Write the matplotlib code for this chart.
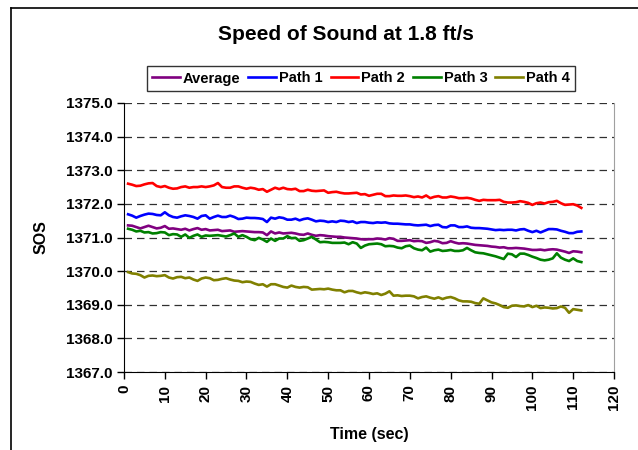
import numpy as np
import matplotlib
matplotlib.use("Agg")
import matplotlib.pyplot as plt
from matplotlib.lines import Line2D

plt.rcParams["font.family"] = ["Liberation Sans", "DejaVu Sans"]
plt.rcParams["font.weight"] = "bold"

# time in seconds, one sample per second
time_sec = list(range(1, 113))

path2 = [
    1372.60, 1372.57, 1372.53, 1372.54, 1372.58, 1372.61, 1372.62, 1372.53, 1372.50, 1372.53,
    1372.48, 1372.45, 1372.46, 1372.50, 1372.52, 1372.48, 1372.50, 1372.50, 1372.52,
    1372.50, 1372.52, 1372.55, 1372.62, 1372.50, 1372.48, 1372.48, 1372.52, 1372.52, 1372.48,
    1372.45, 1372.48, 1372.46, 1372.42, 1372.44, 1372.36, 1372.42, 1372.48, 1372.44,
    1372.48, 1372.44, 1372.43, 1372.45, 1372.38, 1372.38, 1372.42, 1372.39, 1372.38, 1372.39,
    1372.40, 1372.33, 1372.35, 1372.36, 1372.33, 1372.31, 1372.31, 1372.32, 1372.33, 1372.28,
    1372.29, 1372.24, 1372.27, 1372.30, 1372.30, 1372.23, 1372.23, 1372.25, 1372.24, 1372.24,
    1372.25, 1372.23, 1372.20, 1372.22, 1372.19, 1372.25, 1372.17, 1372.21, 1372.23, 1372.19,
    1372.19, 1372.22, 1372.20, 1372.17, 1372.17, 1372.18, 1372.16, 1372.12, 1372.09, 1372.12,
    1372.11, 1372.11, 1372.11, 1372.12, 1372.06, 1372.04, 1372.04, 1372.05, 1372.08,
    1372.06, 1372.03, 1371.97, 1372.02, 1372.04, 1372.01, 1372.05, 1372.06, 1372.09, 1372.02,
    1371.97, 1371.98, 1371.99, 1371.95, 1371.88,
]

path1 = [
    1371.69, 1371.65, 1371.59, 1371.64, 1371.68, 1371.71, 1371.70, 1371.67, 1371.66, 1371.75,
    1371.66, 1371.61, 1371.59, 1371.63, 1371.66, 1371.64, 1371.61, 1371.56, 1371.64,
    1371.66, 1371.56, 1371.61, 1371.65, 1371.61, 1371.61, 1371.65, 1371.61, 1371.55, 1371.56,
    1371.59, 1371.58, 1371.58, 1371.57, 1371.55, 1371.46, 1371.59, 1371.56, 1371.60,
    1371.58, 1371.53, 1371.53, 1371.56, 1371.51, 1371.55, 1371.57, 1371.53, 1371.48, 1371.50,
    1371.49, 1371.46, 1371.48, 1371.46, 1371.50, 1371.49, 1371.46, 1371.48, 1371.43, 1371.46,
    1371.46, 1371.44, 1371.43, 1371.45, 1371.44, 1371.45, 1371.42, 1371.41, 1371.41, 1371.40,
    1371.39, 1371.39, 1371.37, 1371.36, 1371.37, 1371.38, 1371.34, 1371.37, 1371.38, 1371.31,
    1371.30, 1371.36, 1371.36, 1371.31, 1371.31, 1371.33, 1371.29, 1371.28, 1371.28, 1371.27,
    1371.26, 1371.24, 1371.22, 1371.23, 1371.22, 1371.23, 1371.23, 1371.21, 1371.24,
    1371.25, 1371.20, 1371.16, 1371.20, 1371.15, 1371.20, 1371.25, 1371.25, 1371.24, 1371.20,
    1371.17, 1371.13, 1371.13, 1371.17, 1371.18,
]

average = [
    1371.36, 1371.35, 1371.31, 1371.27, 1371.31, 1371.35, 1371.31, 1371.27, 1371.29, 1371.34,
    1371.26, 1371.27, 1371.25, 1371.23, 1371.26, 1371.21, 1371.25, 1371.28, 1371.23,
    1371.25, 1371.21, 1371.22, 1371.23, 1371.19, 1371.20, 1371.21, 1371.17, 1371.18, 1371.19,
    1371.18, 1371.17, 1371.16, 1371.16, 1371.15, 1371.07, 1371.18, 1371.12, 1371.15,
    1371.12, 1371.13, 1371.14, 1371.12, 1371.09, 1371.08, 1371.12, 1371.08, 1371.05, 1371.07,
    1371.06, 1371.04, 1371.03, 1371.02, 1371.02, 1371.00, 1370.99, 1370.98, 1370.97, 1370.95,
    1370.94, 1370.95, 1370.95, 1370.97, 1370.96, 1370.94, 1370.98, 1370.96, 1370.90, 1370.90,
    1370.91, 1370.92, 1370.89, 1370.90, 1370.89, 1370.84, 1370.86, 1370.90, 1370.88, 1370.83,
    1370.84, 1370.89, 1370.85, 1370.82, 1370.83, 1370.82, 1370.80, 1370.78, 1370.77, 1370.76,
    1370.75, 1370.73, 1370.72, 1370.70, 1370.71, 1370.68, 1370.68, 1370.69, 1370.68,
    1370.67, 1370.65, 1370.63, 1370.63, 1370.64, 1370.62, 1370.64, 1370.65, 1370.64, 1370.61,
    1370.58, 1370.54, 1370.59, 1370.58, 1370.56,
]

path3 = [
    1371.26, 1371.23, 1371.18, 1371.20, 1371.15, 1371.16, 1371.12, 1371.13, 1371.16, 1371.15,
    1371.07, 1371.10, 1371.09, 1371.02, 1371.09, 1370.99, 1371.05, 1371.09, 1371.02,
    1371.06, 1371.05, 1371.06, 1371.07, 1371.05, 1371.03, 1371.07, 1371.12, 1371.02, 1371.07,
    1371.02, 1370.95, 1370.92, 1370.99, 1370.94, 1370.87, 1370.97, 1370.90, 1370.97,
    1370.97, 1371.04, 1370.98, 1370.99, 1370.90, 1370.92, 1370.97, 1371.02, 1370.94, 1370.86,
    1370.87, 1370.86, 1370.84, 1370.84, 1370.84, 1370.85, 1370.80, 1370.86, 1370.82, 1370.69,
    1370.76, 1370.80, 1370.81, 1370.82, 1370.80, 1370.74, 1370.75, 1370.74, 1370.70, 1370.68,
    1370.74, 1370.76, 1370.68, 1370.64, 1370.62, 1370.70, 1370.58, 1370.62, 1370.64, 1370.60,
    1370.61, 1370.63, 1370.60, 1370.60, 1370.62, 1370.69, 1370.62, 1370.56, 1370.54, 1370.53,
    1370.50, 1370.47, 1370.44, 1370.40, 1370.36, 1370.52, 1370.50, 1370.42, 1370.52,
    1370.52, 1370.48, 1370.43, 1370.39, 1370.34, 1370.32, 1370.34, 1370.38, 1370.53, 1370.40,
    1370.34, 1370.30, 1370.38, 1370.30, 1370.27,
]

path4 = [
    1369.97, 1369.93, 1369.92, 1369.88, 1369.81, 1369.86, 1369.87, 1369.85, 1369.86, 1369.88,
    1369.81, 1369.78, 1369.82, 1369.83, 1369.79, 1369.81, 1369.75, 1369.71, 1369.78,
    1369.81, 1369.79, 1369.73, 1369.74, 1369.77, 1369.79, 1369.75, 1369.72, 1369.71, 1369.67,
    1369.69, 1369.68, 1369.63, 1369.59, 1369.61, 1369.54, 1369.61, 1369.61, 1369.57,
    1369.53, 1369.51, 1369.57, 1369.53, 1369.51, 1369.53, 1369.52, 1369.45, 1369.46, 1369.47,
    1369.46, 1369.48, 1369.45, 1369.43, 1369.43, 1369.37, 1369.41, 1369.41, 1369.37, 1369.34,
    1369.37, 1369.35, 1369.32, 1369.34, 1369.29, 1369.33, 1369.40, 1369.27, 1369.28, 1369.26,
    1369.27, 1369.27, 1369.25, 1369.19, 1369.23, 1369.25, 1369.21, 1369.18, 1369.22, 1369.17,
    1369.21, 1369.23, 1369.19, 1369.13, 1369.10, 1369.10, 1369.09, 1369.05, 1369.03, 1369.19,
    1369.13, 1369.07, 1369.04, 1368.99, 1368.93, 1368.91, 1368.97, 1368.98, 1368.96,
    1368.95, 1368.99, 1368.93, 1368.97, 1368.90, 1368.92, 1368.91, 1368.89, 1368.90, 1368.95,
    1368.91, 1368.76, 1368.87, 1368.85, 1368.83,
]

series = [
    ("Average", average, "#800080"),
    ("Path 1", path1, "#0000FF"),
    ("Path 2", path2, "#FF0000"),
    ("Path 3", path3, "#008000"),
    ("Path 4", path4, "#808000"),
]

fig = plt.figure(figsize=(6.38, 4.5), dpi=100)

# outer chart frame (left and top edges visible)
fig.add_artist(Line2D([11 / 638, 11 / 638], [0, 1 - 8 / 450], transform=fig.transFigure,
                      color="black", lw=1.2))
fig.add_artist(Line2D([11 / 638, 1], [1 - 8 / 450, 1 - 8 / 450], transform=fig.transFigure,
                      color="black", lw=1.2))

ax = fig.add_axes([124 / 638, 1 - 372 / 450, (614 - 124) / 638, (372 - 103) / 450])

for name, vals, col in series:
    ax.plot(time_sec, vals, color=col, lw=1.9, label=name)

ax.set_xlim(0, 120)
ax.set_ylim(1367, 1375)
ax.set_xticks(range(0, 121, 10))
ax.set_yticks(np.arange(1367, 1375.5, 1))
ax.set_yticklabels(["%.1f" % v for v in np.arange(1367, 1375.5, 1)],
                   fontsize=11, fontweight="bold")
ax.set_xticklabels([str(v) for v in range(0, 121, 10)], rotation=90,
                   fontsize=11, fontweight="bold")
ax.tick_params(axis="both", direction="out", length=5, width=1, color="black")
ax.tick_params(axis="x", pad=4)

ax.yaxis.grid(True, color="#303030", linestyle=(0, (6, 4)), lw=0.9)
ax.set_axisbelow(True)

ax.spines["top"].set_visible(False)
ax.spines["right"].set_color("#a0a0a0")
ax.spines["left"].set_color("black")
ax.spines["bottom"].set_color("black")

ax.set_xlabel("Time (sec)", fontsize=11.5, fontweight="bold", labelpad=12)
ax.set_ylabel("SOS", fontsize=11.5, fontweight="bold", labelpad=12)

fig.text(346 / 638, 1 - 35 / 450, "Speed of Sound at 1.8 ft/s", ha="center", va="center",
         fontsize=15, fontweight="bold")

leg = fig.legend(loc="center", bbox_to_anchor=(361 / 638, 1 - 78.5 / 450), ncol=5,
                 frameon=True, fancybox=False, handlelength=1.9,
                 handletextpad=0.2, columnspacing=0.55, borderpad=0.35,
                 borderaxespad=0, prop={"weight": "bold", "size": 10.5})
leg.get_frame().set_edgecolor("black")
leg.get_frame().set_linewidth(1.0)

fig.savefig("out.png", dpi=100)
